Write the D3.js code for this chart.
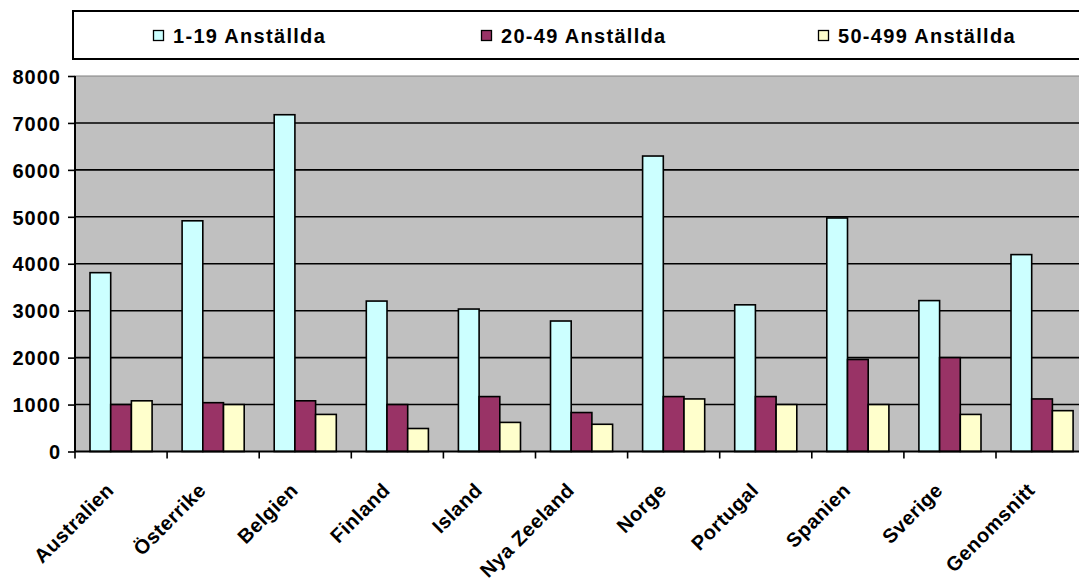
<!DOCTYPE html>
<html>
<head>
<meta charset="utf-8">
<script src="https://cdn.jsdelivr.net/npm/d3@7"></script>
<style>
  html, body { margin: 0; padding: 0; background: #ffffff; overflow: hidden; }
  svg { display: block; font-family: "Liberation Sans", Arial, sans-serif; font-weight: bold; }
</style>
</head>
<body>
<svg id="chart" width="1079" height="578"></svg>
<script>
const categories = ["Australien", "Österrike", "Belgien", "Finland", "Island", "Nya Zeeland", "Norge", "Portugal", "Spanien", "Sverige", "Genomsnitt"];
const seriesNames = ["1-19 Anställda", "20-49 Anställda", "50-499 Anställda"];
const small = [3810, 4915, 7175, 3205, 3035, 2780, 6295, 3125, 4975, 3215, 4195];
const medium = [1000, 1040, 1080, 1000, 1170, 830, 1170, 1170, 1960, 2000, 1120];
const large = [1080, 1000, 790, 490, 620, 580, 1120, 1000, 1000, 790, 870];
const yTicks = [0, 1000, 2000, 3000, 4000, 5000, 6000, 7000, 8000];
const colors = ["#CCFFFF", "#993366", "#FFFFCC"];

const seriesValues = [small, medium, large];
const rows = categories.map((c, i) => ({ cat: c, vals: seriesValues.map((s, k) => ({ key: seriesNames[k], k: k, v: s[i] })) }));

const svg = d3.select("#chart");
const W = 1079, H = 578;
const plotLeft = 75, plotTop = 76, plotBottom = 451.5, bandStep = 92.1;
const plotRight = plotLeft + bandStep * categories.length;

svg.append("rect").attr("x", 0).attr("y", 0).attr("width", W).attr("height", H).attr("fill", "#fff");

// Legend
const lg = svg.append("g");
lg.append("rect").attr("x", 73).attr("y", 11).attr("width", W).attr("height", 48)
  .attr("fill", "#fff").attr("stroke", "#000").attr("stroke-width", 2);
const legendX = [153, 481, 818];
seriesNames.forEach((n, k) => {
  const g = lg.append("g").attr("transform", `translate(${legendX[k]},0)`);
  g.append("rect").attr("x", 0.5).attr("y", 30.5).attr("width", 10).attr("height", 10)
    .attr("fill", colors[k]).attr("stroke", "#000").attr("stroke-width", 1.3);
  g.append("text").attr("x", 20).attr("y", 42.5).attr("font-size", 20)
    .attr("letter-spacing", "1.3px").attr("fill", "#000").text(n);
});

const y = d3.scaleLinear().domain([0, 8000]).range([plotBottom, plotTop]);
const x0 = d3.scaleBand().domain(categories).range([plotLeft, plotRight]).paddingInner(0).paddingOuter(0);
const x1 = d3.scaleBand().domain(seriesNames).range([0, x0.bandwidth()]).paddingInner(0).paddingOuter(0.725);

// Plot area
svg.append("rect").attr("x", plotLeft).attr("y", y(8000)).attr("width", plotRight - plotLeft).attr("height", y(0) - y(8000))
  .attr("fill", "#C0C0C0").attr("stroke", "#808080").attr("stroke-width", 1);

// Gridlines
svg.append("g").selectAll("line").data(yTicks.filter(t => t > 0 && t < 8000)).join("line")
  .attr("x1", plotLeft).attr("x2", plotRight).attr("y1", d => y(d)).attr("y2", d => y(d))
  .attr("stroke", "#000").attr("stroke-width", 1.6);

// Bars
const groups = svg.append("g").selectAll("g").data(rows).join("g")
  .attr("transform", d => `translate(${x0(d.cat)},0)`);
groups.selectAll("rect").data(d => d.vals).join("rect")
  .attr("x", d => x1(d.key)).attr("width", x1.bandwidth())
  .attr("y", d => y(d.v)).attr("height", d => y(0) - y(d.v))
  .attr("fill", d => colors[d.k]).attr("stroke", "#000").attr("stroke-width", 1.6);

// Y axis
const yAxis = svg.append("g").attr("transform", `translate(${plotLeft},0)`)
  .call(d3.axisLeft(y).tickValues(yTicks).tickSize(7).tickPadding(7).tickFormat(d3.format("d")));
yAxis.select(".domain").attr("stroke", "#000").attr("stroke-width", 2).attr("d", `M0,${y(8000)}V${y(0)}`);
yAxis.selectAll(".tick line").attr("stroke", "#000").attr("stroke-width", 1.6);
yAxis.selectAll(".tick text").attr("font-size", 20).attr("font-family", "Liberation Sans, Arial, sans-serif")
  .attr("font-weight", "bold").attr("letter-spacing", "1px").attr("fill", "#000").attr("dy", "0.36em");

// X axis
const xAxis = svg.append("g").attr("transform", `translate(0,${plotBottom})`)
  .call(d3.axisBottom(x0).tickSize(0).tickPadding(0));
xAxis.select(".domain").attr("stroke", "#000").attr("stroke-width", 2).attr("d", `M${plotLeft},0H${plotRight}`);
xAxis.selectAll(".tick text").attr("font-size", 20).attr("font-family", "Liberation Sans, Arial, sans-serif")
  .attr("font-weight", "bold").attr("letter-spacing", "0.5px").attr("fill", "#000")
  .attr("text-anchor", "end").attr("dy", 0).attr("y", 0)
  .attr("transform", "translate(-6,40) rotate(-45)");
const bounds = categories.map(c => x0(c)).concat([plotRight]);
xAxis.append("g").selectAll("line").data(bounds).join("line")
  .attr("x1", d => d).attr("x2", d => d).attr("y1", 0).attr("y2", 7)
  .attr("stroke", "#000").attr("stroke-width", 1.6);
</script>
</body>
</html>
